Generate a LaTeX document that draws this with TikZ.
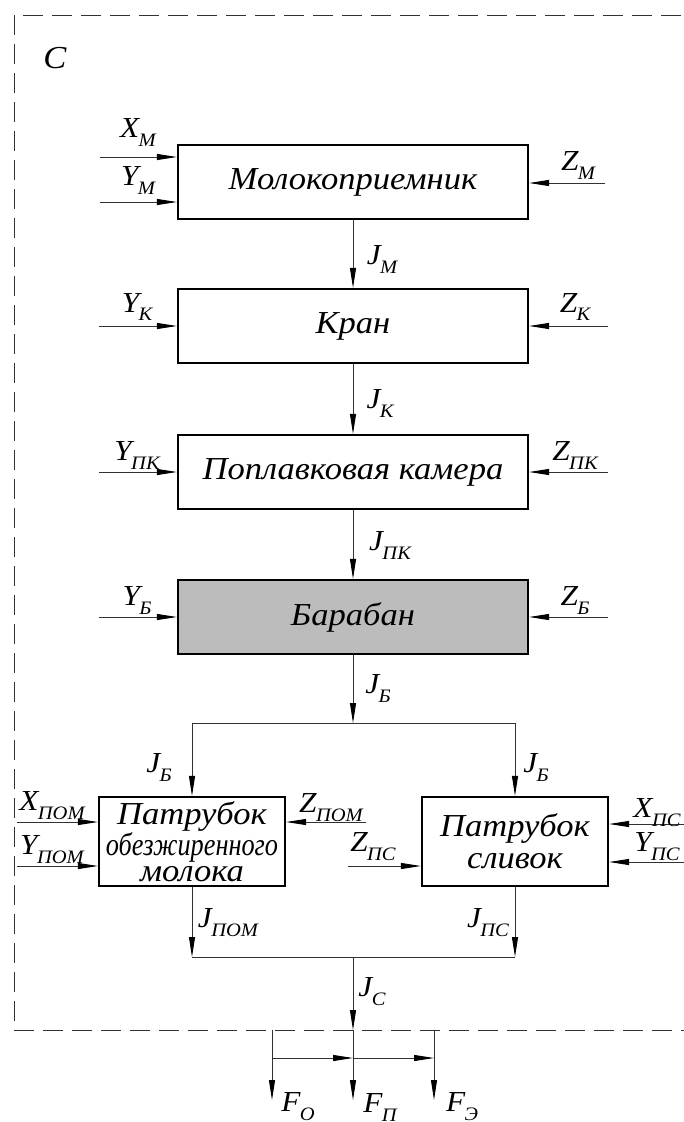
\documentclass[tikz,border=0pt]{standalone}
\usepackage{fontspec}
\setmainfont[FakeStretch=1.08]{Liberation Serif}
\usetikzlibrary{arrows.meta}
\definecolor{drumgray}{RGB}{188,188,188}
\definecolor{linegray}{RGB}{50,50,50}
\newcommand{\lbl}[2]{#1\kern-0.02em\raisebox{-9pt}{\fontsize{19}{19}\selectfont #2}}
\begin{document}
\begin{tikzpicture}[x=1pt,y=-1pt,
  box/.style={draw,line width=2.2pt,minimum width=350pt,minimum height=74pt,inner sep=0pt,font=\fontsize{32}{34}\selectfont\itshape},
  sbox/.style={draw,line width=2.2pt,minimum width=186pt,minimum height=89pt,inner sep=0pt,align=center,font=\fontsize{32}{26}\selectfont\itshape},
  flow/.style={draw=linegray,line width=0.9pt,-{Triangle[length=20pt,width=6pt,color=black]}},
  conn/.style={draw=linegray,line width=0.9pt},
  lab/.style={font=\fontsize{29}{29}\selectfont\itshape,inner sep=0pt},
  frame/.style={draw=linegray,line width=1pt,dash pattern=on 20pt off 9pt}]
\useasboundingbox (0,0) rectangle (683,1122);
% frame
\draw[frame] (14,15) rectangle (710,1030);
\node[font=\fontsize{32}{32}\selectfont\itshape,inner sep=0pt] (c) at (55,58) {С};
% boxes
\node[box] (b1) at (353,182) {\raisebox{-5pt}{Молокоприемник}};
\node[box] (b2) at (353,326) {Кран};
\node[box] (b3) at (353,472) {Поплавковая камера};
\node[box,fill=drumgray] (b4) at (353,617) {Барабан};
\node[sbox] (b5) at (192,841.5) {Патрубок\\{\scalebox{0.76}[1]{обезжиренного}}\\молока};
\node[sbox,font=\fontsize{32}{32}\selectfont\itshape] (b6) at (515,841.5) {Патрубок\\сливок};
% free ends
\coordinate (xm) at (100,157);
\coordinate (ym) at (100,202);
\coordinate (zm) at (605,183);
\coordinate (yk) at (99,326);
\coordinate (zk) at (608,326);
\coordinate (ypk) at (99,472);
\coordinate (zpk) at (608,472);
\coordinate (yb) at (99,617);
\coordinate (zb) at (608,617);
\coordinate (xpom) at (17,822);
\coordinate (ypom) at (17,866);
\coordinate (zpom) at (366,822);
\coordinate (zps) at (348,866);
\coordinate (xps) at (690,824);
\coordinate (yps) at (690,862);
\coordinate (split) at (353,723);
\coordinate (sl) at (192,723);
\coordinate (sr) at (515,723);
\coordinate (ml) at (192,957);
\coordinate (mr) at (515,957);
\coordinate (mc) at (353,957);
\coordinate (jc) at (353,1030);
\coordinate (fo0) at (272,1030);
\coordinate (fe0) at (434,1030);
\coordinate (foh) at (272,1058);
\coordinate (fph) at (353,1058);
\coordinate (feh) at (434,1058);
\coordinate (fo) at (272,1100);
\coordinate (fp) at (353,1100);
\coordinate (fe) at (434,1100);
% side inputs
\draw[flow] (xm) -- (xm -| b1.west);
\draw[flow] (ym) -- (ym -| b1.west);
\draw[flow] (zm) -- (zm -| b1.east);
\draw[flow] (yk) -- (b2.west);
\draw[flow] (zk) -- (b2.east);
\draw[flow] (ypk) -- (b3.west);
\draw[flow] (zpk) -- (b3.east);
\draw[flow] (yb) -- (b4.west);
\draw[flow] (zb) -- (b4.east);
\draw[flow] (xpom) -- (xpom -| b5.west);
\draw[flow] (ypom) -- (ypom -| b5.west);
\draw[flow] (zpom) -- (zpom -| b5.east);
\draw[flow] (zps) -- (zps -| b6.west);
\draw[flow] (xps) -- (xps -| b6.east);
\draw[flow] (yps) -- (yps -| b6.east);
% main flow
\draw[flow] (b1) -- (b2);
\draw[flow] (b2) -- (b3);
\draw[flow] (b3) -- (b4);
\draw[flow] (b4.south) -- (split);
\draw[conn] (sl) -- (sr);
\draw[flow] (sl) -- (b5.north);
\draw[flow] (sr) -- (b6.north);
\draw[flow] (b5.south) -- (ml);
\draw[flow] (b6.south) -- (mr);
\draw[conn] (ml) -- (mr);
\draw[flow] (mc) -- (jc);
\draw[flow] (jc) -- (fp);
\draw[flow] (fo0) -- (fo);
\draw[flow] (fe0) -- (fe);
\draw[flow] (foh) -- (fph);
\draw[flow] (fph) -- (feh);
% labels
\node[lab] (lxm) at (138,133) {\lbl{X}{М}};
\node[lab] (lym) at (138,181) {\lbl{Y}{М}};
\node[lab] (lzm) at (578,166) {\lbl{Z}{М}};
\node[lab] (ljm) at (382,260) {\lbl{J}{М}};
\node[lab] (lyk) at (137,307) {\lbl{Y}{К}};
\node[lab] (lzk) at (575,307) {\lbl{Z}{К}};
\node[lab] (ljk) at (380,403) {\lbl{J}{К}};
\node[lab] (lypk) at (137,455) {\lbl{Y}{ПК}};
\node[lab] (lzpk) at (575,455) {\lbl{Z}{ПК}};
\node[lab] (ljpk) at (390,545) {\lbl{J}{ПК}};
\node[lab] (lyb) at (137,600) {\lbl{Y}{Б}};
\node[lab] (lzb) at (575,600) {\lbl{Z}{Б}};
\node[lab] (ljb) at (378,688) {\lbl{J}{Б}};
\node[lab] (ljbl) at (159,767) {\lbl{J}{Б}};
\node[lab] (ljbr) at (536,767) {\lbl{J}{Б}};
\node[lab] (lxpom) at (52,806) {\lbl{X}{ПОМ}};
\node[lab] (lypom) at (52,850) {\lbl{Y}{ПОМ}};
\node[lab] (lzpom) at (331,808) {\lbl{Z}{ПОМ}};
\node[lab] (lzps) at (373,847) {\lbl{Z}{ПС}};
\node[lab] (lxps) at (657,813) {\lbl{X}{ПС}};
\node[lab] (lyps) at (657,847) {\lbl{Y}{ПС}};
\node[lab] (ljpom) at (228,923) {\lbl{J}{ПОМ}};
\node[lab] (ljps) at (488,923) {\lbl{J}{ПС}};
\node[lab] (ljc) at (372,992) {\lbl{J}{С}};
\node[lab] (lfo) at (298,1107) {\lbl{F}{О}};
\node[lab] (lfp) at (380,1107) {\lbl{F}{П}};
\node[lab] (lfe) at (462,1107) {\lbl{F}{Э}};
\end{tikzpicture}
\end{document}
